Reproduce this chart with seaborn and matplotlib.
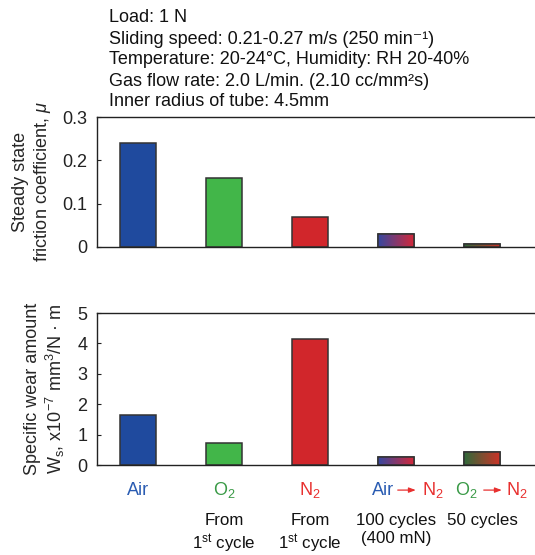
import matplotlib
matplotlib.use("Agg")
import matplotlib.pyplot as plt
import matplotlib.transforms as mtransforms
import numpy as np
import pandas as pd
import seaborn as sns

sns.set_style("white")
plt.rcParams['font.family'] = ['Liberation Sans', 'DejaVu Sans']
plt.rcParams['mathtext.fontset'] = 'custom'
plt.rcParams['mathtext.rm'] = 'Liberation Sans'
plt.rcParams['mathtext.it'] = 'Liberation Sans:italic'

# ---- data ----
conditions = ["Air", "O2", "N2", "Air->N2", "O2->N2"]
friction = [0.24, 0.16, 0.07, 0.03, 0.008]
wear = [1.65, 0.72, 4.15, 0.25, 0.43]
friction_ticks = [0, 0.1, 0.2, 0.3]
friction_ticklabels = ["0", "0.1", "0.2", "0.3"]
wear_ticks = [0, 1, 2, 3, 4, 5]
header_lines = [
    "Load: 1 N",
    "Sliding speed: 0.21-0.27 m/s (250 min\u207b\u00b9)",
    "Temperature: 20-24\u00b0C, Humidity: RH 20-40%",
    "Gas flow rate: 2.0 L/min. (2.10 cc/mm\u00b2s)",
    "Inner radius of tube: 4.5mm",
]
second_row = ["", "From\n1$^{\\mathrm{st}}$ cycle", "From\n1$^{\\mathrm{st}}$ cycle",
              "100 cycles\n(400 mN)", "50 cycles"]

BLUE = "#1f4a9e"
GREEN = "#42b649"
RED = "#d1262b"
bar_colors = [BLUE, GREEN, RED, "#8a3a66", "#7a4a30"]
gradients = {3: ("#3548a0", "#d2283a"), 4: ("#2f6a3a", "#cc3328")}
LBLUE = "#2a5cb2"
LGREEN = "#3a9a47"
LRED = "#e8302f"

df = pd.DataFrame({"cond": conditions, "friction": friction, "wear": wear})

fig = plt.figure(figsize=(5.35, 5.55), dpi=100)
ax1 = fig.add_axes([0.1813, 0.555, 0.8187, 0.234])
ax2 = fig.add_axes([0.1813, 0.162, 0.8187, 0.274])

FS = 13
FS2 = 12.2

def style(ax, values):
    sns.barplot(data=df, x="cond", y=values, hue="cond", palette=bar_colors,
                legend=False, width=0.41, edgecolor="#333333", linewidth=1.1,
                saturation=1, ax=ax)
    ax.set_xlim(-0.477, 4.616)
    for s in ["top", "left", "bottom"]:
        ax.spines[s].set_visible(True)
        ax.spines[s].set_color("#222222")
        ax.spines[s].set_linewidth(1.0)
    ax.spines["right"].set_visible(False)
    ax.set_xticks([])
    ax.set_xlabel("")
    ax.tick_params(axis="y", direction="in", length=3, width=0.8, pad=7,
                   labelsize=FS, left=True, colors="#222222")
    # gradients
    for i, (c0, c1) in gradients.items():
        p = ax.patches[i]
        x0, y0 = p.get_x(), p.get_y()
        w, h = p.get_width(), p.get_height()
        cmap = matplotlib.colors.LinearSegmentedColormap.from_list("g", [c0, c1])
        grad = np.linspace(0, 1, 256).reshape(1, -1)
        im = ax.imshow(grad, cmap=cmap, aspect="auto",
                       extent=[x0, x0 + w, y0, y0 + h], zorder=p.get_zorder() + 0.1)
        im.set_clip_path(p)
        p.set_facecolor("none")
        edge = matplotlib.patches.Rectangle((x0, y0), w, h, fill=False,
                                            edgecolor="#333333", linewidth=1.1,
                                            zorder=p.get_zorder() + 0.2)
        ax.add_patch(edge)

style(ax1, "friction")
ax1.set_ylim(0, 0.3)
ax1.set_yticks(friction_ticks)
ax1.set_yticklabels(friction_ticklabels)
ax1.set_ylabel("Steady state\nfriction coefficient, $\\mathit{\\mu}$", fontsize=FS,
               labelpad=7, linespacing=1.2)

style(ax2, "wear")
ax2.set_ylim(0, 5)
ax2.set_yticks(wear_ticks)
ax2.set_ylabel("Specific wear amount\nW$_{\\mathrm{s}}$, x10$^{-7}$ mm$^3$/N · m", fontsize=FS,
               labelpad=7, linespacing=1.2)
ax2.set_aspect("auto")
ax1.set_aspect("auto")

# header text
for k, line in enumerate(header_lines):
    fig.text(109 / 535, 1 - (18 + 21 * k) / 555, line, fontsize=FS,
             ha="left", va="center", color="#111111")

# colored x labels
tr = mtransforms.blended_transform_factory(ax2.transData, ax2.transAxes)
ylab = -(490 - 465) / (0.274 * 555)

def arrow(xc):
    ax2.annotate("", xy=(xc + 0.23, ylab), xytext=(xc + 0.02, ylab),
                 xycoords=tr, textcoords=tr,
                 arrowprops=dict(arrowstyle="-|>,head_length=0.4,head_width=0.15",
                                 color=LRED, lw=0.9, shrinkA=0, shrinkB=0))

ax2.text(0, ylab, "Air", color=LBLUE, ha="center", va="center", fontsize=FS, transform=tr)
ax2.text(1, ylab, "O$_2$", color=LGREEN, ha="center", va="center", fontsize=FS, transform=tr)
ax2.text(2, ylab, "N$_2$", color=LRED, ha="center", va="center", fontsize=FS, transform=tr)
ax2.text(3 - 0.02, ylab, "Air", color=LBLUE, ha="right", va="center", fontsize=FS, transform=tr)
arrow(3)
ax2.text(3 + 0.30, ylab, "N$_2$", color=LRED, ha="left", va="center", fontsize=FS, transform=tr)
ax2.text(4 - 0.05, ylab, "O$_2$", color=LGREEN, ha="right", va="center", fontsize=FS, transform=tr)
arrow(4)
ax2.text(4 + 0.28, ylab, "N$_2$", color=LRED, ha="left", va="center", fontsize=FS, transform=tr)

ysec = -(513 - 465) / (0.274 * 555)
for i, t in enumerate(second_row):
    if t:
        ax2.text(i, ysec, t, color="#111111", ha="center", va="top", fontsize=FS2,
                 linespacing=1.25, transform=tr)

fig.savefig("out.png", dpi=100)
